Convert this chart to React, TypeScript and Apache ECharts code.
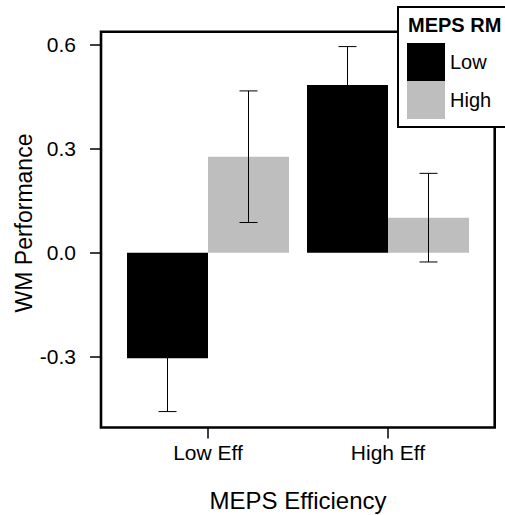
import React, { useEffect, useRef } from "react";
import * as echarts from "echarts";

const categories = ["Low Eff", "High Eff"];
const seriesNames = ["Low", "High"];
const lowRM = [-0.305, 0.484];
const highRM = [0.277, 0.101];
const lowRMse = [0.154, 0.111];
const highRMse = [0.19, 0.128];
const yTicks = [-0.3, 0.0, 0.3, 0.6];

const FONT = "'Liberation Sans', Arial, Helvetica, sans-serif";

export default function App() {
  const ref = useRef<HTMLDivElement>(null);
  useEffect(() => {
    if (!ref.current) return;
    const chart = echarts.init(ref.current, undefined, { renderer: "svg" });
    const errData: any[] = [];
    lowRM.forEach((m, i) => errData.push([i, m, lowRMse[i], 0]));
    highRM.forEach((m, i) => errData.push([i, m, highRMse[i], 1]));

    const option: any = {
      animation: false,
      backgroundColor: "#fff",
      textStyle: { fontFamily: FONT },
      grid: { left: 118, right: 27, top: 31.7, bottom: 87.5, containLabel: false },
      xAxis: {
        type: "category",
        data: categories,
        axisLine: { show: false, onZero: false },
        axisTick: { show: true, alignWithLabel: true, length: 11, lineStyle: { color: "#000", width: 1.5 } },
        axisLabel: { fontSize: 21, color: "#000", margin: 14, fontFamily: FONT },
        splitLine: { show: false },
      },
      yAxis: {
        type: "value",
        min: -0.505,
        max: 0.638,
        offset: 17,
        axisLine: { show: false, onZero: false },
        splitLine: { show: false },
        axisTick: { show: true, length: 11, customValues: yTicks, lineStyle: { color: "#000", width: 1.5 } },
        axisLabel: {
          customValues: yTicks,
          fontSize: 21,
          color: "#000",
          margin: 25,
          fontFamily: FONT,
          formatter: (v: number) => v.toFixed(1),
        },
      },
      legend: {
        data: seriesNames,
        orient: "vertical",
        left: 407,
        top: 43,
        padding: 0,
        itemWidth: 38,
        itemHeight: 38,
        itemGap: 0,
        icon: "rect",
        z: 11,
        textStyle: { fontSize: 20, color: "#000", fontFamily: FONT },
      },
      series: [
        {
          name: "Low",
          type: "bar",
          data: lowRM,
          barGap: "0%",
          barCategoryGap: "10%",
          itemStyle: { color: "#000" },
        },
        {
          name: "High",
          type: "bar",
          data: highRM,
          barGap: "0%",
          barCategoryGap: "10%",
          itemStyle: { color: "#BEBEBE" },
        },
        {
          name: "err",
          type: "custom",
          data: errData,
          encode: { x: 0, y: 1 },
          z: 5,
          renderItem: (params: any, api: any) => {
            const ci = api.value(0);
            const m = api.value(1);
            const se = api.value(2);
            const s = api.value(3);
            const band = api.size([1, 0])[0];
            const barW = (band * 0.9) / 2;
            const off = (s === 0 ? -0.5 : 0.5) * barW;
            const x = api.coord([ci, 0])[0] + off;
            const yt = api.coord([ci, m + se])[1];
            const yb = api.coord([ci, m - se])[1];
            const cap = 9;
            const st = { stroke: "#000", lineWidth: 1 };
            return {
              type: "group",
              children: [
                { type: "line", shape: { x1: x, y1: yt, x2: x, y2: yb }, style: st },
                { type: "line", shape: { x1: x - cap, y1: yt, x2: x + cap, y2: yt }, style: st },
                { type: "line", shape: { x1: x - cap, y1: yb, x2: x + cap, y2: yb }, style: st },
              ],
            };
          },
        },
      ],
      graphic: [
        {
          type: "rect",
          z: 1,
          shape: { x: 101, y: 31.7, width: 393.7, height: 395.8 },
          style: { fill: "none", stroke: "#000", lineWidth: 2.6 },
        },
        {
          type: "rect",
          z: 10,
          shape: { x: 398, y: 7, width: 130, height: 120 },
          style: { fill: "#fff", stroke: "#000", lineWidth: 2 },
        },
        {
          type: "text",
          z: 12,
          x: 408,
          y: 25,
          style: {
            text: "MEPS RM",
            font: `bold 20px ${FONT}`,
            fill: "#000",
            textAlign: "left",
            textVerticalAlign: "middle",
          },
        },
        {
          type: "text",
          z: 12,
          x: 298,
          y: 500,
          style: {
            text: "MEPS Efficiency",
            font: `24px ${FONT}`,
            fill: "#000",
            textAlign: "center",
            textVerticalAlign: "middle",
          },
        },
        {
          type: "text",
          z: 12,
          x: 24,
          y: 223,
          rotation: Math.PI / 2,
          style: {
            text: "WM Performance",
            font: `23px ${FONT}`,
            fill: "#000",
            textAlign: "center",
            textVerticalAlign: "middle",
          },
        },
      ],
    };
    chart.setOption(option);
    return () => chart.dispose();
  }, []);
  return (
    <div
      ref={ref}
      style={{ position: "fixed", left: 0, top: 0, width: 505, height: 515 }}
    />
  );
}
